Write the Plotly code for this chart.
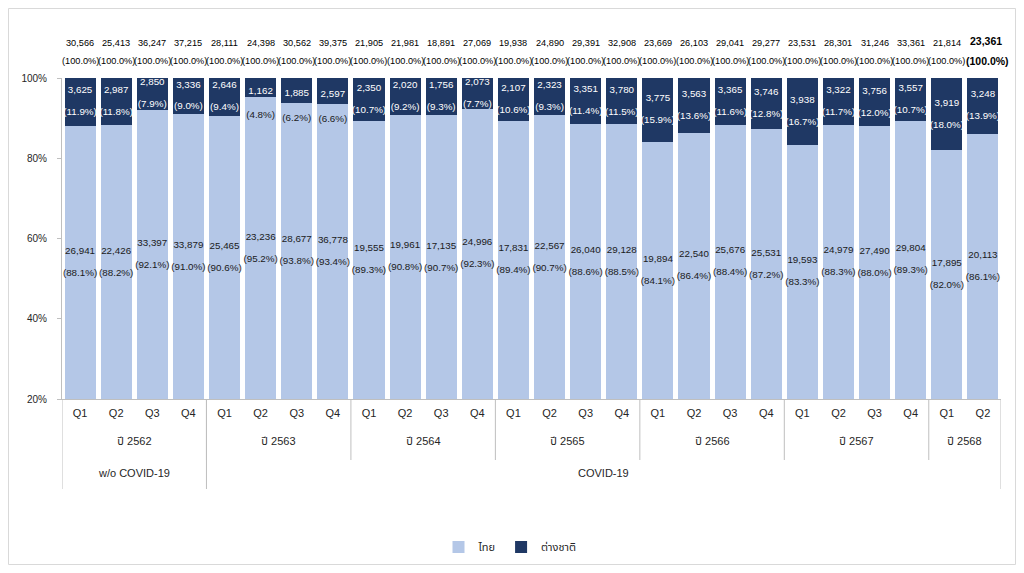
import plotly.graph_objects as go

quarters = ["Q1", "Q2", "Q3", "Q4"] * 6 + ["Q1", "Q2"]
years = ["ปี 2562", "ปี 2563", "ปี 2564", "ปี 2565", "ปี 2566", "ปี 2567", "ปี 2568"]
year_sizes = [4, 4, 4, 4, 4, 4, 2]
eras = ["w/o COVID-19", "COVID-19"]
era_sizes = [4, 22]
y_ticks = [20, 40, 60, 80, 100]
y_tick_labels = ["20%", "40%", "60%", "80%", "100%"]

thai = [26941, 22426, 33397, 33879, 25465, 23236, 28677, 36778, 19555, 19961, 17135, 24996,
        17831, 22567, 26040, 29128, 19894, 22540, 25676, 25531, 19593, 24979, 27490, 29804,
        17895, 20113]
thai_pct = [88.1, 88.2, 92.1, 91.0, 90.6, 95.2, 93.8, 93.4, 89.3, 90.8, 90.7, 92.3,
            89.4, 90.7, 88.6, 88.5, 84.1, 86.4, 88.4, 87.2, 83.3, 88.3, 88.0, 89.3,
            82.0, 86.1]
foreign = [3625, 2987, 2850, 3336, 2646, 1162, 1885, 2597, 2350, 2020, 1756, 2073,
           2107, 2323, 3351, 3780, 3775, 3563, 3365, 3746, 3938, 3322, 3756, 3557,
           3919, 3248]
foreign_pct = [11.9, 11.8, 7.9, 9.0, 9.4, 4.8, 6.2, 6.6, 10.7, 9.2, 9.3, 7.7,
               10.6, 9.3, 11.4, 11.5, 15.9, 13.6, 11.6, 12.8, 16.7, 11.7, 12.0, 10.7,
               18.0, 13.9]
totals = [30566, 25413, 36247, 37215, 28111, 24398, 30562, 39375, 21905, 21981, 18891, 27069,
          19938, 24890, 29391, 32908, 23669, 26103, 29041, 29277, 23531, 28301, 31246, 33361,
          21814, 23361]

C_THAI = "#B4C7E7"
C_FOR = "#1F3864"
FONT = "Liberation Sans, Arial, Noto Sans Thai, Tahoma, sans-serif"

# page has an 8px body margin; keep the whole page within the 1024x573 window
W, H = 1008, 557
ML, MR, MT, MB = 54, 15, 70, 166
PW, PH = W - ML - MR, H - MT - MB
YMIN, YMAX = 20, 100
ppu = PH / (YMAX - YMIN)  # pixels per unit
PAGE_TOP, PAGE_LEFT = 78, 62  # page coords of plot-area top/left
PAGE_BOTTOM = PAGE_TOP + PH


def py(pix):  # page pixel y -> paper y
    return (PAGE_BOTTOM - pix) / PH


def px(pix):  # page pixel x -> paper x
    return (pix - PAGE_LEFT) / PW


x = list(range(len(thai)))

fig = go.Figure()
fig.add_trace(go.Bar(x=x, y=thai_pct, name="ไทย", marker=dict(color=C_THAI, line=dict(width=0)),
                     hoverinfo="skip"))
fig.add_trace(go.Bar(x=x, y=[100 - t for t in thai_pct], name="ต่างชาติ",
                     marker=dict(color=C_FOR, line=dict(width=0)), hoverinfo="skip"))

off = 11 / ppu
thai_mid = [(YMIN + t) / 2 for t in thai_pct]
for_mid = [(t + 100) / 2 for t in thai_pct]

DARK = "#1a1a1a"
LSZ = 9.8
lab_font_dark = dict(family=FONT, size=LSZ, color=DARK)

fig.add_trace(go.Scatter(x=x, y=[m + off for m in thai_mid], mode="text",
                         text=[f"{v:,}" for v in thai], textfont=lab_font_dark,
                         showlegend=False, hoverinfo="skip"))
fig.add_trace(go.Scatter(x=x, y=[m - off for m in thai_mid], mode="text",
                         text=[f"({p:.1f}%)" for p in thai_pct], textfont=lab_font_dark,
                         showlegend=False, hoverinfo="skip"))

# foreign labels: small segments push the percentage below the segment
f_cnt_y, f_pct_y, f_pct_col = [], [], []
for p, m in zip(foreign_pct, for_mid):
    if p < 7:
        f_cnt_y.append(m - 3.5 / ppu)
        f_pct_y.append(m - 28 / ppu)
        f_pct_col.append(DARK)
    else:
        f_cnt_y.append(m + off)
        f_pct_y.append(m - off)
        f_pct_col.append("#ffffff")

fig.add_trace(go.Scatter(x=x, y=f_cnt_y, mode="text",
                         text=[f"{v:,}" for v in foreign],
                         textfont=dict(family=FONT, size=LSZ, color="#ffffff"),
                         showlegend=False, hoverinfo="skip"))
fig.add_trace(go.Scatter(x=x, y=f_pct_y, mode="text",
                         text=[f"({p:.1f}%)" for p in foreign_pct],
                         textfont=dict(family=FONT, size=LSZ, color=f_pct_col),
                         showlegend=False, hoverinfo="skip"))

annotations = []
n = len(totals)
for i, t in enumerate(totals):
    last = i == n - 1
    f = dict(family=FONT, size=10.5 if last else 9.2, color="#000000")
    annotations.append(dict(x=i, y=py(41 if last else 43), xref="x", yref="paper",
                            yanchor="middle", xanchor="center",
                            text=(f"<b>{t:,}</b>" if last else f"{t:,}"),
                            showarrow=False, font=f, xshift=3 if last else 0))
    annotations.append(dict(x=i, y=py(61), xref="x", yref="paper",
                            yanchor="middle", xanchor="center",
                            text=("<b>(100.0%)</b>" if last else "(100.0%)"),
                            showarrow=False, font=f, xshift=5 if last else 0))

shapes = []
start = 0
for yname, sz in zip(years, year_sizes):
    annotations.append(dict(x=start + (sz - 1) / 2, y=py(441), xref="x", yref="paper",
                            yanchor="middle", xanchor="center",
                            text=yname, showarrow=False,
                            font=dict(family=FONT, size=11, color="#262626")))
    start += sz
    if start < n:
        shapes.append(dict(type="line", xref="x", yref="paper", x0=start - 0.5, x1=start - 0.5,
                           y0=0, y1=py(460), line=dict(color="#bfbfbf", width=1)))

start = 0
for ename, sz in zip(eras, era_sizes):
    annotations.append(dict(x=start + (sz - 1) / 2, y=py(473), xref="x", yref="paper",
                            yanchor="middle", xanchor="center",
                            text=ename, showarrow=False,
                            font=dict(family=FONT, size=11, color="#262626")))
    shapes.append(dict(type="line", xref="x", yref="paper", x0=start - 0.5, x1=start - 0.5,
                       y0=0, y1=py(489), line=dict(color="#bfbfbf", width=1)))
    start += sz
shapes.append(dict(type="line", xref="x", yref="paper", x0=n - 0.5, x1=n - 0.5,
                   y0=0, y1=py(489), line=dict(color="#bfbfbf", width=1)))

# outer frame (along the figure edges)
shapes.append(dict(type="rect", xref="paper", yref="paper", x0=px(8.5), x1=px(8 + W - 0.5),
                   y0=py(8 + H - 0.5), y1=py(8.5), line=dict(color="#d9d9d9", width=1),
                   fillcolor="rgba(0,0,0,0)", layer="below"))

fig.update_layout(
    width=W, height=H,
    margin=dict(l=ML, r=MR, t=MT, b=MB, autoexpand=False),
    barmode="stack", bargap=0.14,
    plot_bgcolor="white", paper_bgcolor="white",
    font=dict(family=FONT, size=10, color="#404040"),
    showlegend=True,
    legend=dict(orientation="h", x=px(510), xanchor="center", y=py(547), yanchor="middle",
                font=dict(family=FONT, size=11, color="#262626"), traceorder="normal",
                itemwidth=30),
    annotations=annotations, shapes=shapes,
)
fig.update_xaxes(tickmode="array", tickvals=x, ticktext=quarters, range=[-0.5, n - 0.5],
                 showline=True, linecolor="#bfbfbf", linewidth=1, ticks="",
                 tickfont=dict(family=FONT, size=11, color="#262626"), showgrid=False,
                 zeroline=False, ticklabelstandoff=4, automargin=False)
fig.update_yaxes(range=[YMIN, YMAX], tickmode="array", tickvals=y_ticks, ticktext=y_tick_labels,
                 showline=True, linecolor="#bfbfbf", linewidth=1, ticks="outside",
                 ticklen=4, tickcolor="#bfbfbf", showgrid=False, zeroline=False,
                 tickfont=dict(family=FONT, size=10, color="#262626"),
                 ticklabelstandoff=8, automargin=False)

fig.write_html("out.html")
